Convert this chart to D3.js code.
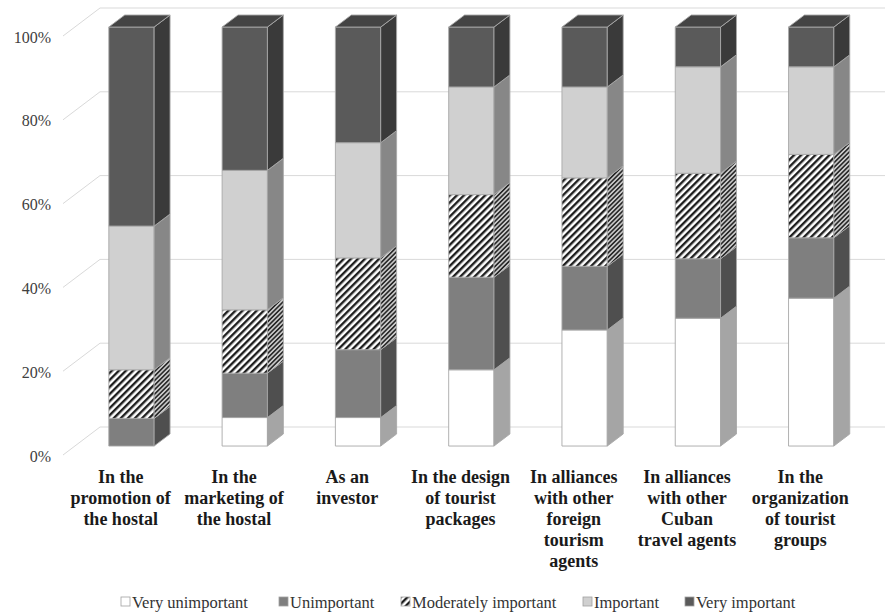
<!DOCTYPE html>
<html>
<head>
<meta charset="utf-8">
<script src="https://cdn.jsdelivr.net/npm/d3@7"></script>
<style>
  html, body { margin: 0; padding: 0; background: #fff; }
  svg { display: block; }
  svg text { font-family: "Liberation Serif", "DejaVu Serif", "Times New Roman", serif; }
</style>
</head>
<body>
<svg id="chart" width="885" height="613"></svg>
<script>
// Categories (label lines as drawn under each column)
const categories = [
  "promotion", "marketing", "investor", "design", "foreign", "cuban", "organization"
];
const categoryLines = [
  ["In the", "promotion of", "the hostal"],
  ["In the", "marketing of", "the hostal"],
  ["As an", "investor"],
  ["In the design", "of tourist", "packages"],
  ["In alliances", "with other", "foreign", "tourism", "agents"],
  ["In alliances", "with other", "Cuban", "travel agents"],
  ["In the", "organization", "of tourist", "groups"]
];

// Series values (percent of respondents)
const seriesNames = ["Very unimportant", "Unimportant", "Moderately important", "Important", "Very important"];
const veryUnimportant     = [0.0, 6.8, 6.8, 18.2, 27.7, 30.5, 35.3];
const unimportant         = [6.6, 10.6, 16.2, 22.1, 15.2, 14.2, 14.4];
const moderatelyImportant = [11.6, 15.1, 21.9, 19.7, 21.1, 20.4, 19.9];
const important           = [34.3, 33.3, 27.5, 25.7, 21.7, 25.4, 20.9];
const veryImportant       = [47.5, 34.2, 27.6, 14.3, 14.3, 9.5, 9.5];

const yTicks = [0, 0.2, 0.4, 0.6, 0.8, 1.0];

// Build the rows for d3.stack
const seriesValues = [veryUnimportant, unimportant, moderatelyImportant, important, veryImportant];
const rows = categories.map((c, i) => {
  const r = { category: c };
  seriesNames.forEach((s, k) => { r[s] = seriesValues[k][i]; });
  return r;
});
const stacked = d3.stack().keys(seriesNames).offset(d3.stackOffsetExpand)(rows);

const svg = d3.select("#chart");
const defs = svg.append("defs");

// Diagonal hatch for the front face
const hatch = defs.append("pattern")
  .attr("id", "hatch").attr("patternUnits", "userSpaceOnUse")
  .attr("width", 5).attr("height", 5)
  .attr("patternTransform", "rotate(45)");
hatch.append("rect").attr("width", 5).attr("height", 5).attr("fill", "#fff");
hatch.append("rect").attr("width", 2.4).attr("height", 5).attr("fill", "#1e1e1e");

// Denser, darker hatch for the side face
const hatchSide = defs.append("pattern")
  .attr("id", "hatchSide").attr("patternUnits", "userSpaceOnUse")
  .attr("width", 3.2).attr("height", 3.2)
  .attr("patternTransform", "rotate(45)");
hatchSide.append("rect").attr("width", 3.2).attr("height", 3.2).attr("fill", "#c8c8c8");
hatchSide.append("rect").attr("width", 1.6).attr("height", 3.2).attr("fill", "#2a2a2a");

// Face colours per series: front, side, top
const faces = {
  "Very unimportant":     { front: "#ffffff",     side: "#a5a5a5",        top: "#e0e0e0" },
  "Unimportant":          { front: "#7f7f7f",     side: "#4f4f4f",        top: "#666666" },
  "Moderately important": { front: "url(#hatch)", side: "url(#hatchSide)", top: "url(#hatch)" },
  "Important":            { front: "#d0d0d0",     side: "#878787",        top: "#b0b0b0" },
  "Very important":       { front: "#5a5a5a",     side: "#3a3a3a",        top: "#444444" }
};

// Scales on the front plane of the 3-D box
const x = d3.scaleBand().domain(categories).range([63, 856]).padding(0);
const y = d3.scaleLinear().domain([0, 1]).range([455, 36]);

// Oblique depth: depth 0 = front plane, 1 = back wall
const DX = 37, DY = -28;
const P = (xf, v, d) => [xf + DX * d, y(v) + DY * d];
const barFront = 0.32, barBack = 0.75;
const barW = x.bandwidth() * 0.4;

// Gridlines: back wall horizontals and left wall diagonals
const grid = svg.append("g").attr("stroke", "#d9d9d9").attr("stroke-width", 1).attr("fill", "none");
yTicks.forEach(t => {
  const a = P(x.range()[0], t, 0), b = P(x.range()[0], t, 1);
  grid.append("line").attr("x1", a[0]).attr("y1", a[1]).attr("x2", b[0]).attr("y2", b[1]);
  grid.append("line").attr("x1", b[0]).attr("y1", b[1]).attr("x2", 885).attr("y2", b[1]);
});

// Y-axis tick labels
svg.append("g").selectAll("text").data(yTicks).join("text")
  .attr("x", 51).attr("y", t => y(t) + 1)
  .attr("dy", "0.35em")
  .attr("text-anchor", "end")
  .attr("font-size", 16)
  .attr("fill", "#404040")
  .text(d3.format(".0%"));

const poly = pts => pts.map(p => p.join(",")).join(" ");

// Bars
const bars = svg.append("g").attr("stroke", "#a8a8a8").attr("stroke-width", 0.9).attr("stroke-linejoin", "round");
categories.forEach((c, i) => {
  const x0 = x(c) + (x.bandwidth() - barW) / 2;
  const x1 = x0 + barW;
  stacked.forEach((layer, k) => {
    const [v0, v1] = layer[i];
    if (v1 - v0 <= 0) return;
    const f = faces[layer.key];
    // front face
    bars.append("polygon")
      .attr("points", poly([P(x0, v0, barFront), P(x1, v0, barFront), P(x1, v1, barFront), P(x0, v1, barFront)]))
      .attr("fill", f.front);
    // right side face
    bars.append("polygon")
      .attr("points", poly([P(x1, v0, barFront), P(x1, v0, barBack), P(x1, v1, barBack), P(x1, v1, barFront)]))
      .attr("fill", f.side);
    // top face of the uppermost segment
    if (k === stacked.length - 1) {
      bars.append("polygon")
        .attr("points", poly([P(x0, v1, barFront), P(x1, v1, barFront), P(x1, v1, barBack), P(x0, v1, barBack)]))
        .attr("fill", f.top);
    }
  });
});

// Category labels
const labels = svg.append("g")
  .attr("font-size", 18)
  .attr("font-weight", "bold")
  .attr("fill", "#1a1a1a")
  .attr("text-anchor", "middle");
categories.forEach((c, i) => {
  const cx = x(c) + x.bandwidth() / 2 + 1;
  const t = labels.append("text").attr("x", cx).attr("y", 483);
  categoryLines[i].forEach((line, j) => {
    t.append("tspan").attr("x", cx).attr("dy", j === 0 ? 0 : 21).text(line);
  });
});

// Legend
const legendX = [121, 279, 401, 583, 685];
const legend = svg.append("g")
  .attr("font-size", 16.5)
  .attr("fill", "#333");
seriesNames.forEach((s, k) => {
  const g = legend.append("g").attr("transform", `translate(${legendX[k]},602)`);
  g.append("rect").attr("x", 0).attr("y", -5).attr("width", 9).attr("height", 9)
    .attr("fill", faces[s].front).attr("stroke", "#a0a0a0").attr("stroke-width", 0.8);
  g.append("text").attr("x", 11).attr("y", 0).attr("dy", "0.35em").text(s);
});
</script>
</body>
</html>
